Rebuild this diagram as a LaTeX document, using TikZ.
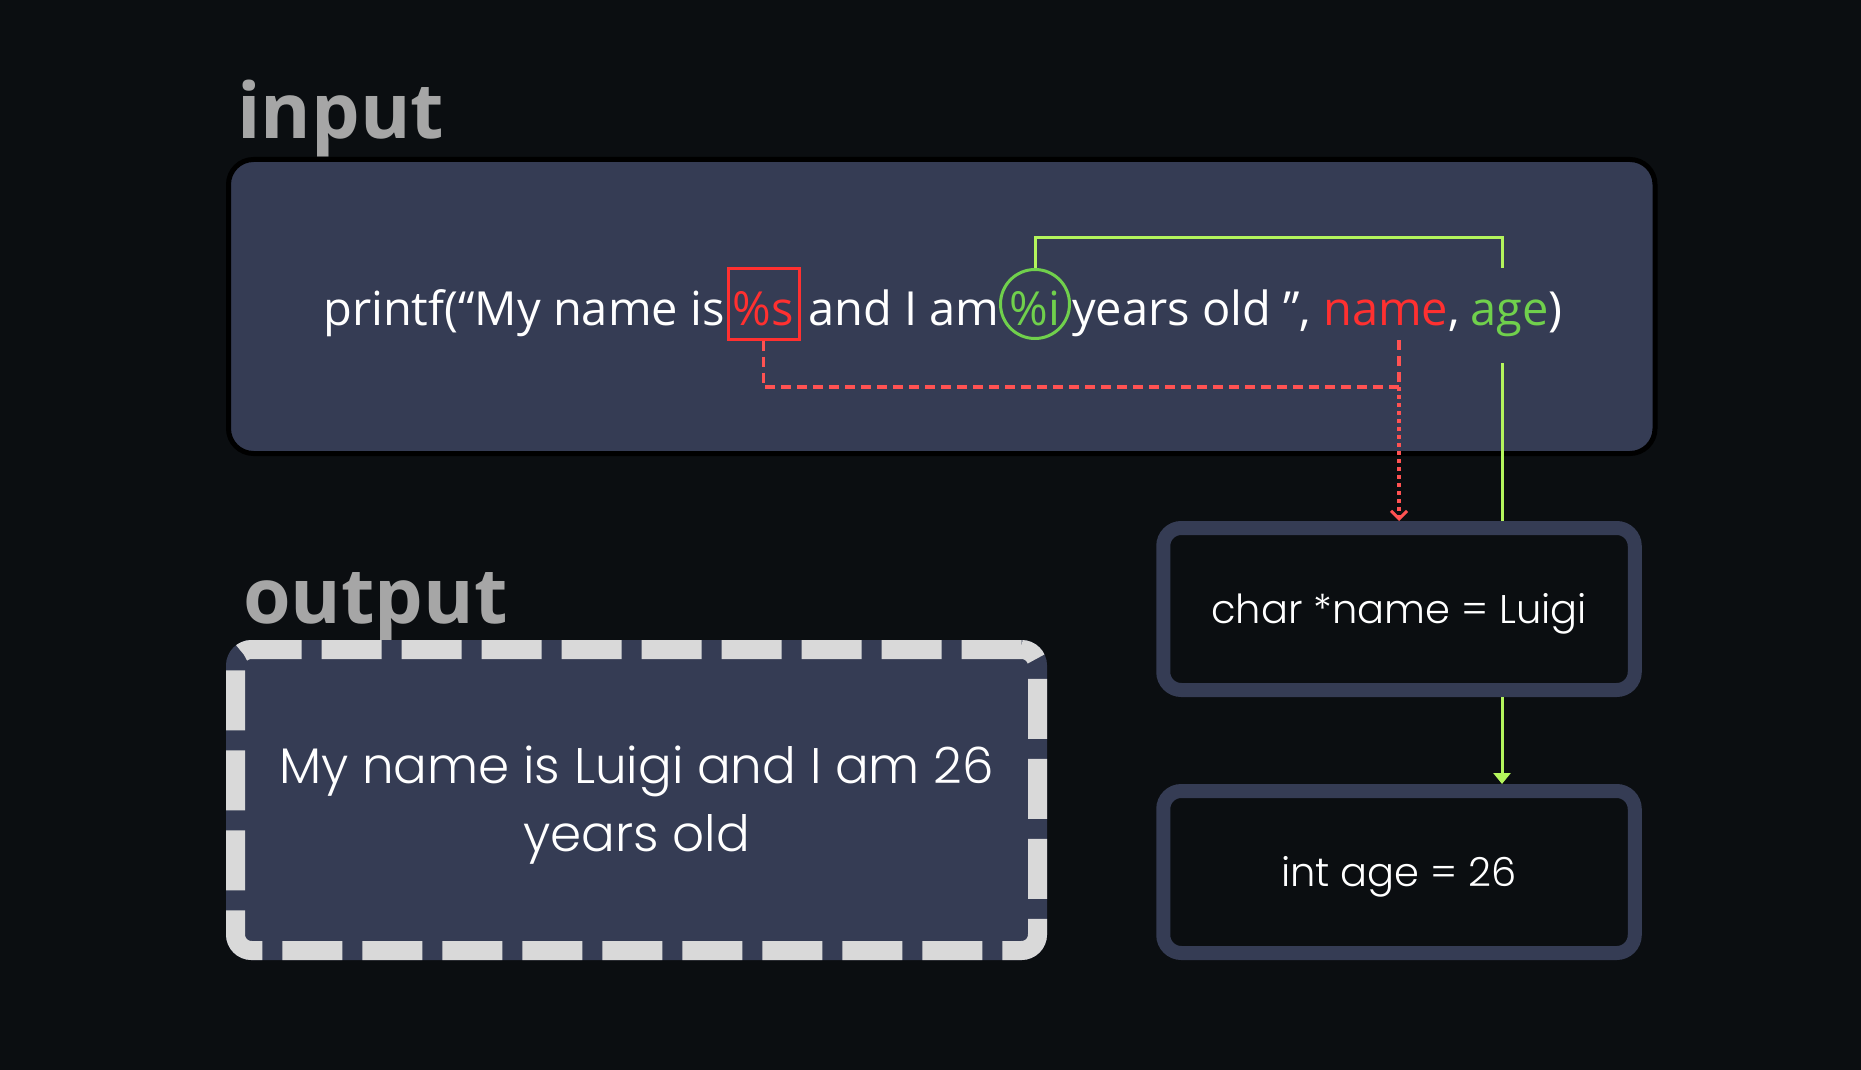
\documentclass[tikz,border=0pt]{standalone}
\usepackage{fontspec}
\setmainfont{Open Sans}
\newfontfamily\geo{Poppins}[UprightFont={* Light}]
\usetikzlibrary{arrows.meta}
\definecolor{bgc}{HTML}{0B0E11}
\definecolor{panel}{HTML}{353C54}
\definecolor{headc}{HTML}{A6A6A6}
\definecolor{redt}{HTML}{FF3030}
\definecolor{redl}{HTML}{FF5252}
\definecolor{greent}{HTML}{70D04C}
\definecolor{greenl}{HTML}{B4F55C}
\definecolor{dashc}{HTML}{D9D9D9}
\begin{document}
\begin{tikzpicture}[x=1pt,y=-1pt,
  head/.style={font=\fontsize{77}{85}\selectfont\bfseries, text=headc, inner sep=0, anchor=base west},
  ptxt/.style={font=\fontsize{47}{56}\selectfont, text=white, inner sep=0, anchor=base west},
  varbox/.style={draw=panel, line width=14, fill=bgc, rounded corners=18, minimum width=471.5, minimum height=162, inner sep=0, font=\geo\fontsize{40}{48}\selectfont, text=white, text height=36, text depth=8},
  reddash/.style={draw=redl, line width=3.5, dash pattern=on 10 off 6},
  reddot/.style={draw=redl, line width=3.5, dash pattern=on 4 off 4},
  gline/.style={draw=greenl, line width=3},
]
\fill[bgc] (0,0) rectangle (1861,1070);
\useasboundingbox (0,0) rectangle (1861,1070);

% input panel
\node[draw=black, line width=5, fill=panel, rounded corners=25, minimum width=1426.5, minimum height=294, inner sep=0] (inbox) at (941.75,306.5) {};
\node[head] (inlabel) at (237,139) {input};

% printf line
\node[ptxt] (p1) at (323,325) {printf(“My name is};
\node[draw=redt, line width=3, minimum width=71, minimum height=71, inner sep=0] (sbox) at (763.5,303.5) {};
\node[ptxt, anchor=base, text=redt] (stext) at (763.5,325) {\%s};
\node[ptxt] (p2) at (808,325) {and I am};
\node[circle, draw=greent, line width=3, minimum size=69, inner sep=0] (icirc) at (1035,304) {};
\node[ptxt, anchor=base, text=greent] (itext) at (1035,325) {\%i};
\node[ptxt] (p3) at (1072,325) {years old ”,};
\node[ptxt, text=redt] (pname) at (1323,325) {name};
\node[ptxt] (pcomma) at (pname.base east) {,};
\node[ptxt, text=greent] (page) at (1470,325) {age};
\node[ptxt] (pclose) at (page.base east) {)};

% output panel
\node[head] (outlabel) at (243,623) {output};
\node[draw=dashc, line width=19, dash pattern=on 60 off 20, fill=panel, rounded corners=16,
      preaction={draw=panel, solid}, minimum width=802, minimum height=301, inner sep=0] (outbox) at (636.5,800) {};
\node[font=\geo\fontsize{50}{68}\selectfont, text=white, align=center, inner sep=0] (outtext) at (636.5,805)
  {My name is Luigi and I am 26\\years old};

% variable boxes
\node[varbox] (charbox) at (1399,609) {char *name = Luigi};
\node[varbox] (intbox) at (1399,872) {int age = 26};

% red connectors
\coordinate (rj) at (1399,387);
\coordinate (nb) at (1399,340);
\draw[reddash] (sbox.south) |- (rj);
\draw[reddash] (nb) -- (rj);
\draw[reddot, -{Straight Barb[length=8,width=16,line width=3]}] (rj) -- (charbox.north);

% green connectors
\coordinate (g1) at (1035,237);
\coordinate (g2) at (1502,237);
\coordinate (g3) at (1502,268);
\coordinate (g4) at (1502,363);
\draw[gline] (icirc.north) -- (g1) -- (g2) -- (g3);
\draw[gline] (g4) -- (g4 |- charbox.north);
\draw[gline, -{Triangle[length=11,width=17]}] (g4 |- charbox.south) -- (g4 |- intbox.north);
\end{tikzpicture}
\end{document}
